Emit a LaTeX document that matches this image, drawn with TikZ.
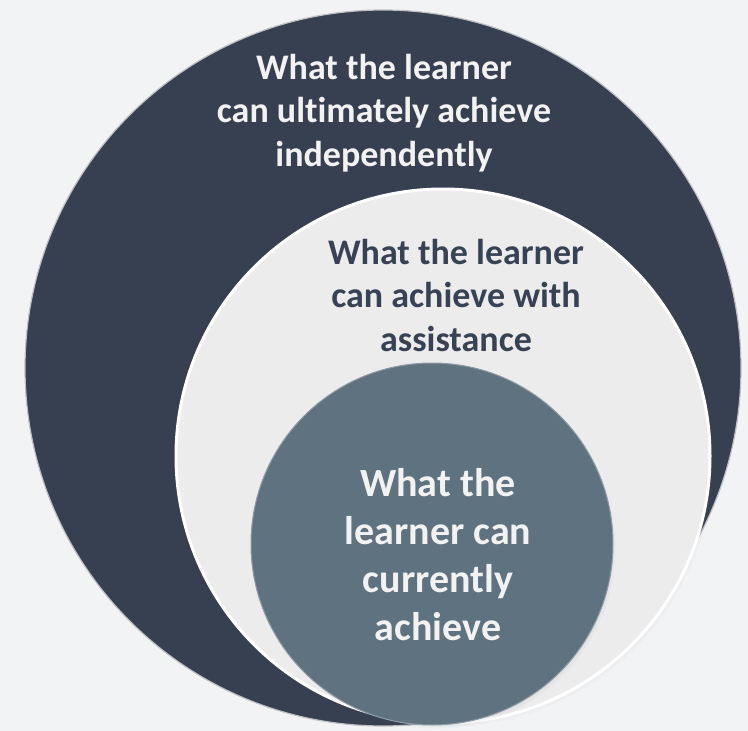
\documentclass[tikz,border=0pt]{standalone}
\usepackage{fontspec}
\setmainfont{Carlito}[Ligatures={NoCommon,NoContextual}]
\usetikzlibrary{shadows}

\definecolor{bgGray}{RGB}{242,243,245}
\definecolor{outerSlate}{RGB}{54,64,81}
\definecolor{midGray}{RGB}{236,236,236}
\definecolor{innerSlate}{RGB}{95,114,127}
\definecolor{darkText}{RGB}{55,66,84}
\definecolor{rimGray}{RGB}{190,192,196}

\tikzset{every picture/.style={line width=0.75pt}}
\tikzset{
  zone/.style={circle, inner sep=0pt, draw=rimGray, line width=1.2pt},
  zone shadow/.style={circular drop shadow={shadow xshift=3pt, shadow yshift=-4pt, shadow scale=1.0, opacity=0.45}},
  zonetext/.style={font=\bfseries\fontsize{36}{43.5}\selectfont, align=center},
}

\begin{document}
\begin{tikzpicture}[x=1pt,y=1pt,yscale=-1,xscale=1]
%set the picture to the reference size
\fill [bgGray] (0,0) rectangle (748,731);
\useasboundingbox (0,0) rectangle (748,731);

%Shape: Outer circle
\node [zone, fill=outerSlate, minimum size=716pt] (outer) at (383,368) {};
%Shape: Middle circle
\node [zone, zone shadow, fill=midGray, draw=white, line width=3pt, minimum size=534pt] (middle) at (443,456) {};
%Shape: Inner circle
\node [zone, zone shadow, fill=innerSlate, draw=innerSlate!70!white, line width=1pt, minimum size=362pt] (inner) at (432,544) {};

% Text Node
\node [zonetext, text=white!95!black] (outerText) at (384,113) {What the learner\\can ultimately achieve\\independently};
% Text Node
\node [zonetext, text=darkText] (middleText) at (456,295) {What the learner\\can achieve with\\assistance};
% Text Node
\node [zonetext, text=white!95!black, font=\bfseries\fontsize{40}{48}\selectfont] (innerText) at (438,555) {What the\\learner can\\currently\\achieve};

\end{tikzpicture}
\end{document}
